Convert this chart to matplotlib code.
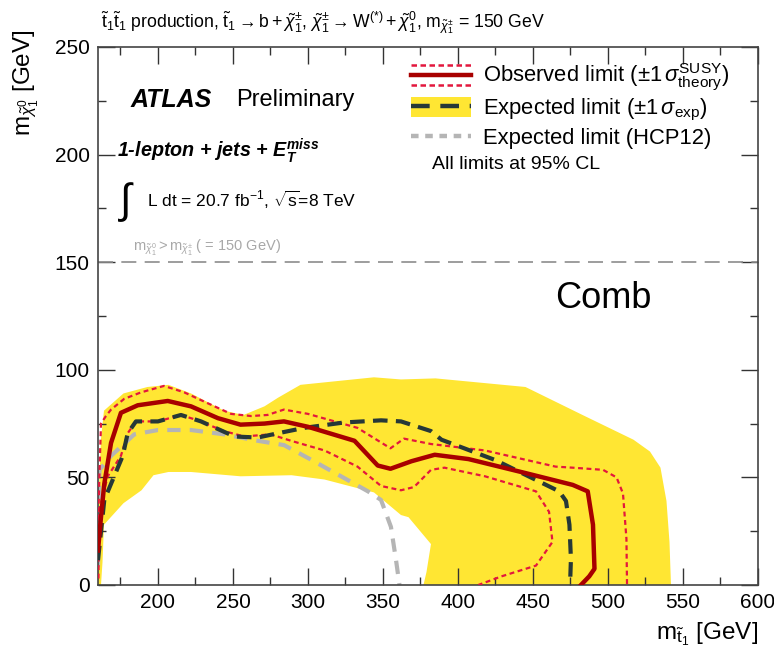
import numpy as np
import matplotlib
matplotlib.use("Agg")
import matplotlib.pyplot as plt
from matplotlib.lines import Line2D
from matplotlib.patches import Patch
from matplotlib.legend_handler import HandlerBase, HandlerTuple
from matplotlib.ticker import MultipleLocator

plt.rcParams['font.family'] = ['Liberation Sans', 'DejaVu Sans']
plt.rcParams['mathtext.fontset'] = 'custom'
plt.rcParams['mathtext.rm'] = 'Liberation Sans'
plt.rcParams['mathtext.it'] = 'Liberation Sans:italic'
plt.rcParams['mathtext.bf'] = 'Liberation Sans:bold'
plt.rcParams['mathtext.sf'] = 'Liberation Sans'
plt.rcParams['mathtext.bfit'] = 'Liberation Sans:italic:bold'

# expected +-1 sigma band: outer edge (left to right), then inner hole edge (right to left)
band_out_x = [160, 160.5, 162, 164, 177, 193, 207, 222, 244, 257, 271, 280, 295, 344, 362, 385, 445, 483, 517, 528, 535, 539, 541, 542]
band_out_y = [0, 42, 68, 81, 89, 92, 93, 89, 81, 79, 83, 87, 93, 96.5, 95.5, 96, 92, 79, 67.5, 62, 54.5, 39, 20, 0]
band_in_x = [377, 379, 382, 367, 362, 344, 311, 289, 255, 222, 207, 197, 189, 177, 164, 163, 162]
band_in_y = [0, 6, 19, 31.5, 32.5, 43, 49, 51, 50.5, 52.5, 52.5, 51, 44, 38, 28, 10.5, 0]

# observed limit
obs_x = [160, 162, 164.2, 168.7, 175.3, 186.5, 206.5, 222, 240, 255, 271, 284, 300, 331, 346.5, 355, 369, 384.5, 407, 445, 476.5, 486.5, 490, 491, 487.5, 482]
obs_y = [16, 31.5, 47, 66, 80, 83.5, 85.5, 83, 77.5, 74.5, 75, 76, 73.5, 67, 55.5, 54, 57.5, 60.5, 58.5, 52, 46.5, 43.5, 28, 7.5, 4, 0]

# observed +1 sigma theory
obs_up_x = [160, 161, 162, 165.3, 168.7, 177.5, 188.7, 204, 217.5, 233, 248.7, 262, 273, 284, 300, 333, 355, 364, 382, 418, 465, 476.5, 496.7, 505.7, 510, 512.3, 512.7]
obs_up_y = [26, 52.5, 75, 78.5, 81.5, 86.5, 89.5, 92.5, 89.5, 84.5, 79.5, 78.5, 79, 81.5, 79.5, 73, 63.5, 68, 65.5, 62.5, 55, 54.5, 53.5, 50, 42.5, 21.5, 0]

# observed -1 sigma theory
obs_dn_x = [160.3, 160.7, 166.5, 175.3, 179.8, 185.3, 200, 215.3, 226.5, 244, 257.5, 275, 288.7, 311, 333, 348.7, 362, 370.7, 382, 391, 418, 452, 460.7, 463, 452, 429, 413.6]
obs_dn_y = [3, 34.5, 50.5, 60, 70.5, 76, 76, 79, 76.5, 71.5, 69, 70, 67, 62.5, 55, 46, 44, 45.5, 53.5, 54.5, 50.5, 43.5, 34, 20, 9, 4, 0]

# expected limit
exp_x = [160, 164.2, 168.7, 176.5, 179.8, 185.3, 200, 215.3, 228.7, 251, 266.5, 280, 297.5, 324, 348.7, 362, 382, 389, 425, 447, 467.5, 472, 474.3, 475.3, 474.7]
exp_y = [11.5, 39.5, 47, 60, 70.5, 76, 76, 79, 76, 69, 68.5, 70.5, 73, 75.5, 76.5, 76, 71.5, 67.5, 58, 50.5, 43.5, 39, 28, 12, 0]

# expected limit HCP12
hcp_x = [160, 160.5, 161, 168.7, 176.5, 184.2, 200, 222, 244, 266.5, 284, 300, 322, 340, 348.7, 355.3, 358.7, 361]
hcp_y = [8.5, 31.5, 53.5, 60, 65, 70, 72, 72, 70, 67, 65, 59, 50.5, 43.5, 39.5, 27, 11.5, 0]

kin_limit = 150

YELLOW = '#ffe633'
OBS = '#a80000'
THEO = '#e3173d'
EXPC = '#263838'
GREY = '#b5b5b5'

fig = plt.figure(figsize=(7.74, 6.58), dpi=100)
ax = fig.add_axes([0.1266, 0.111, 0.8527, 0.8176])

bx = band_out_x + band_in_x
by = band_out_y + band_in_y
ax.fill(bx, by, color=YELLOW, lw=0, zorder=1)

ax.plot(hcp_x, hcp_y, color=GREY, lw=3, dashes=(3.2, 2.2), zorder=2)
ax.plot(obs_up_x, obs_up_y, color=THEO, lw=1.6, dashes=(2.2, 1.6), zorder=3)
ax.plot(obs_dn_x, obs_dn_y, color=THEO, lw=1.6, dashes=(2.2, 1.6), zorder=3)
exp_line, = ax.plot(exp_x, exp_y, color=EXPC, lw=3, dashes=(3.5, 2.0), zorder=4)
obs_line, = ax.plot(obs_x, obs_y, color=OBS, lw=3.2, zorder=5)

ax.axhline(kin_limit, color='#8c8c8c', lw=1.2, dashes=(9, 5), zorder=2)

ax.set_xlim(160, 600)
ax.set_ylim(0, 250)
ax.xaxis.set_major_locator(MultipleLocator(50))
ax.xaxis.set_minor_locator(MultipleLocator(25))
ax.yaxis.set_major_locator(MultipleLocator(50))
ax.yaxis.set_minor_locator(MultipleLocator(25))
ax.tick_params(which='both', direction='in', top=True, right=True, color='#333333', width=1)
ax.tick_params(which='major', length=12, labelsize=15)
ax.tick_params(which='minor', length=6)
ax.tick_params(axis='x', which='major', pad=6)
ax.tick_params(axis='y', which='major', pad=6)
for sp in ax.spines.values():
    sp.set_color('#444444')
    sp.set_linewidth(1.2)

ax.set_xlabel(r'$\mathregular{m}_{\tilde{\mathregular{t}}_{1}}$ [GeV]', loc='right', fontsize=17.5, labelpad=6)
ax.set_ylabel(r'$\mathregular{m}_{\tilde{\chi}^{0}_{1}}$ [GeV]', fontsize=17.5)
ax.yaxis.set_label_coords(-0.108, 1.032)
ax.yaxis.label.set_rotation_mode('default')
ax.yaxis.label.set_ha('center')
ax.yaxis.label.set_va('top')


class ObsHandler(HandlerBase):
    def create_artists(self, legend, orig_handle, xdescent, ydescent, width, height, fontsize, trans):
        x0, x1 = -xdescent, width - xdescent
        yc = height / 2 - ydescent
        dy = height / 2
        arts = [Line2D([x0, x1], [yc, yc], color=OBS, lw=3.2),
                Line2D([x0, x1], [yc + dy, yc + dy], color=THEO, lw=1.8, dashes=(2.2, 1.4)),
                Line2D([x0, x1], [yc - dy, yc - dy], color=THEO, lw=1.8, dashes=(2.2, 1.4))]
        for a in arts:
            a.set_transform(trans)
        return arts


band_patch = Patch(facecolor=YELLOW, edgecolor='none')
exp_handle = Line2D([], [], color=EXPC, lw=3.2, dashes=(4.2, 2.4))
hcp_handle = Line2D([], [], color=GREY, lw=3.2, dashes=(1.7, 1.5))

leg = ax.legend([obs_line, (band_patch, exp_handle), hcp_handle],
                [r'Observed limit ($\pm 1\,\sigma^{\mathregular{SUSY}}_{\mathregular{theory}}$)',
                 r'Expected limit ($\pm 1\,\sigma_{\mathregular{exp}}$)',
                 'Expected limit (HCP12)'],
                handler_map={obs_line: ObsHandler(), tuple: HandlerTuple(ndivide=1, pad=0)},
                loc='upper left', bbox_to_anchor=(0.474, 0.972), frameon=False,
                fontsize=15.8, handlelength=2.75, handleheight=1.05, handletextpad=0.55,
                labelspacing=0.16, borderpad=0, borderaxespad=0)

ax.text(0.506, 0.781, 'All limits at 95% CL', transform=ax.transAxes, fontsize=14, va='center')

ax.text(0.05, 0.901, 'ATLAS', transform=ax.transAxes, fontsize=18, fontweight='bold', style='italic', va='center')
ax.text(0.21, 0.901, 'Preliminary', transform=ax.transAxes, fontsize=17, va='center')
ax.text(0.029, 0.808, r'1-lepton + jets + $\mathbfit{E}_{\mathbfit{T}}^{\mathbfit{miss}}$', transform=ax.transAxes,
        fontsize=14.2, fontweight='bold', style='italic', va='center')
ax.text(0.034, 0.712, '\u222b', transform=ax.transAxes, fontsize=30, va='center')
ax.text(0.074, 0.716, r'L dt = 20.7 fb$^{\mathregular{-1}}$, $\sqrt{\mathregular{s}}$=8 TeV', transform=ax.transAxes,
        fontsize=12.5, va='center')
ax.text(0.053, 0.626, r'$\mathregular{m}_{\tilde{\chi}^{0}_{1}} > \mathregular{m}_{\tilde{\chi}^{\pm}_{1}}$ ( = 150 GeV)',
        transform=ax.transAxes, fontsize=10.5, color='#a8a8a8', va='center')
ax.text(0.692, 0.533, 'Comb', transform=ax.transAxes, fontsize=26, va='center')

fig.text(0.13, 0.965,
         r'$\tilde{\mathregular{t}}_1\tilde{\mathregular{t}}_1$ production, $\tilde{\mathregular{t}}_1 \rightarrow \mathregular{b}+\tilde{\chi}^{\pm}_1$, '
         r'$\tilde{\chi}^{\pm}_1 \rightarrow \mathregular{W}^{(*)}+\tilde{\chi}^{0}_1$, $\mathregular{m}_{\tilde{\chi}^{\pm}_1}$ = 150 GeV',
         fontsize=12.7, va='center')

fig.savefig('out.png', dpi=100)
